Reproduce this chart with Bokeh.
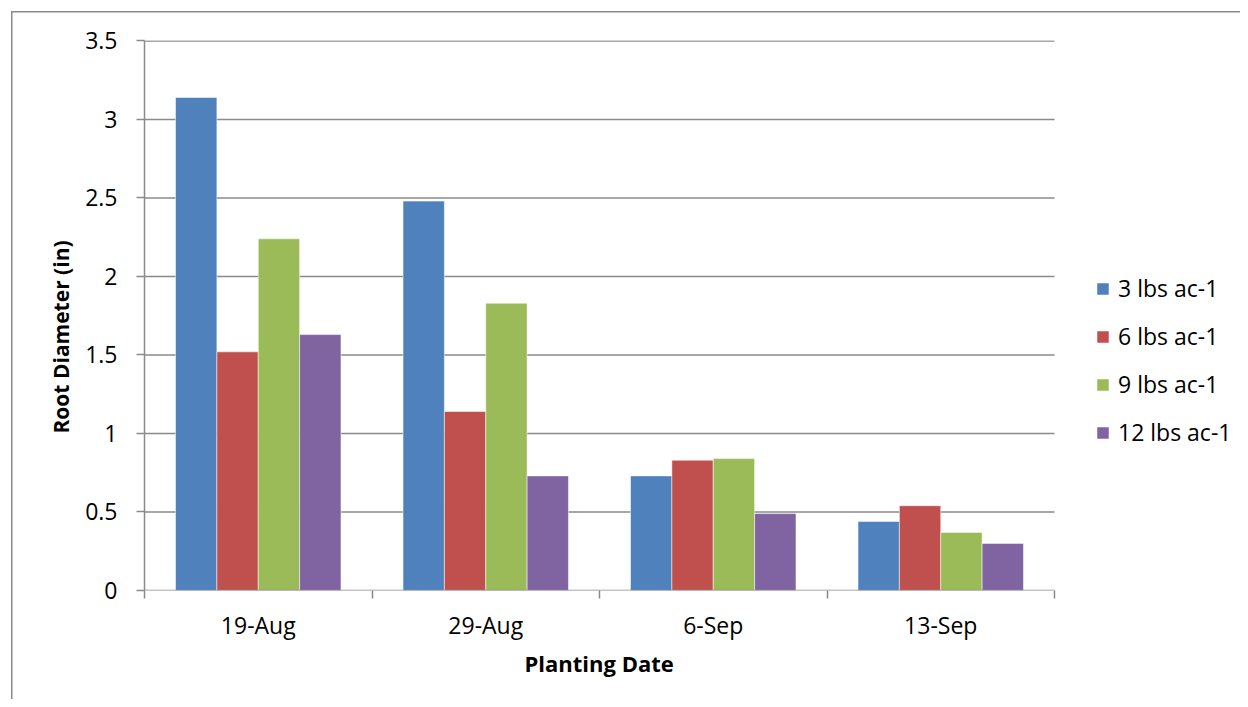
from bokeh.plotting import figure
from bokeh.models import (ColumnDataSource, FixedTicker, Legend, LegendItem,
                          Range1d, Title)
from bokeh.embed import file_html
from bokeh.resources import INLINE

# ---- data ----
dates = ["19-Aug", "29-Aug", "6-Sep", "13-Sep"]
series_names = ["3 lbs ac-1", "6 lbs ac-1", "9 lbs ac-1", "12 lbs ac-1"]
rate_3 = [3.14, 2.48, 0.73, 0.44]
rate_6 = [1.52, 1.14, 0.83, 0.54]
rate_9 = [2.24, 1.83, 0.84, 0.37]
rate_12 = [1.63, 0.73, 0.49, 0.30]
series_values = [rate_3, rate_6, rate_9, rate_12]
colors = ["#4F81BD", "#C0504D", "#9BBB59", "#8064A2"]
y_ticks = [0, 0.5, 1, 1.5, 2, 2.5, 3, 3.5]
y_tick_labels = ["0", "0.5", "1", "1.5", "2", "2.5", "3", "3.5"]

FONT = "Open Sans"
GRAY = "#8a8a8a"

n_groups = len(dates)
n_series = len(series_names)
bar_w = 1.0 / (n_series + 1.5)

# layout: the drawing frame is extended to the right so the legend can sit in it
LEFT, TOP, BOTTOM = 144, 40, 109
W, H = 1240, 699
PLOT_W = 910                      # width of the bar area
FRAME_W = W - LEFT
x_end = n_groups * FRAME_W / PLOT_W

p = figure(width=W, height=H, output_backend="svg", toolbar_location=None,
           x_range=Range1d(0, x_end), y_range=Range1d(0, 3.503),
           min_border_left=LEFT, min_border_right=0,
           min_border_top=TOP, min_border_bottom=BOTTOM)
p.outline_line_color = None
p.background_fill_color = "white"
p.border_fill_color = "white"
p.border_fill_alpha = 0
p.background_fill_alpha = 0
p.styles = {
    "background": ("linear-gradient(#8a8a8a, #8a8a8a) 11px 11px / 1.5px 100% no-repeat, "
                   "linear-gradient(#8a8a8a, #8a8a8a) 11px 11px / 100% 1.5px no-repeat, white"),
}
p.xgrid.grid_line_color = None
p.ygrid.grid_line_color = None

# horizontal gridlines over the bar area only
grid_y = y_ticks[1:]
p.segment(x0=[0] * len(grid_y), x1=[n_groups] * len(grid_y), y0=grid_y, y1=grid_y,
          line_color=GRAY, line_width=1.5)

renderers = []
for i, (name, vals, col) in enumerate(zip(series_names, series_values, colors)):
    off = (i - (n_series - 1) / 2) * bar_w
    src = ColumnDataSource(dict(x=[g + 0.5 + off for g in range(n_groups)], top=vals))
    r = p.vbar(x="x", top="top", width=bar_w, bottom=0, source=src,
               fill_color=col, line_color="white", line_alpha=0.5, line_width=1)
    renderers.append((name, r))

# x axis baseline (bar area only)
p.segment(x0=[0], x1=[n_groups], y0=[0], y1=[0], line_color=GRAY, line_width=1.5)

# y axis
p.yaxis.ticker = FixedTicker(ticks=y_ticks, minor_ticks=[])
p.yaxis.major_label_overrides = {t: l for t, l in zip(y_ticks, y_tick_labels)}
p.yaxis.major_tick_out = 8
p.yaxis.major_tick_in = 0
p.yaxis.minor_tick_out = 0
p.yaxis.minor_tick_in = 0
p.yaxis.axis_line_color = GRAY
p.yaxis.axis_line_width = 1.5
p.yaxis.major_tick_line_color = GRAY
p.yaxis.major_tick_line_width = 1.5
p.yaxis.major_label_standoff = 19
p.yaxis.major_label_text_font = FONT
p.yaxis.major_label_text_font_size = "23px"
p.yaxis.major_label_text_color = "black"

# x axis (ticks at category boundaries, labels at centres)
centers = [g + 0.5 for g in range(n_groups)]
p.xaxis.ticker = FixedTicker(ticks=centers, minor_ticks=list(range(n_groups + 1)))
p.xaxis.major_label_overrides = {c: d for c, d in zip(centers, dates)}
p.xaxis.major_tick_out = 0
p.xaxis.major_tick_in = 0
p.xaxis.minor_tick_out = 8
p.xaxis.minor_tick_in = 0
p.xaxis.minor_tick_line_color = GRAY
p.xaxis.minor_tick_line_width = 1.5
p.xaxis.axis_line_color = None
p.xaxis.major_label_standoff = 10
p.xaxis.major_label_text_font = FONT
p.xaxis.major_label_text_font_size = "23px"
p.xaxis.major_label_text_color = "black"

# x axis title, centred under the bar area
xtitle = Title(text="Planting Date", align="left", offset=380, standoff=8,
               vertical_align="top",
               text_font=FONT, text_font_size="22px", text_font_style="bold",
               text_color="black")
p.add_layout(xtitle, "below")

# y axis title
ytitle = Title(text="Root Diameter (in)", align="left", offset=157, standoff=16,
               text_font=FONT, text_font_size="21px", text_font_style="bold",
               text_color="black")
p.add_layout(ytitle, "left")

# legend, right of the bar area
legend = Legend(items=[LegendItem(label=n, renderers=[r]) for n, r in renderers],
                location=(PLOT_W + 41, 142), orientation="vertical",
                glyph_width=15, glyph_height=15, label_standoff=8,
                spacing=16, padding=0, margin=0,
                border_line_color=None, background_fill_alpha=0,
                label_text_font=FONT, label_text_font_size="23px",
                label_text_color="black")
p.add_layout(legend)

open("out.html", "w").write(file_html(p, INLINE))
